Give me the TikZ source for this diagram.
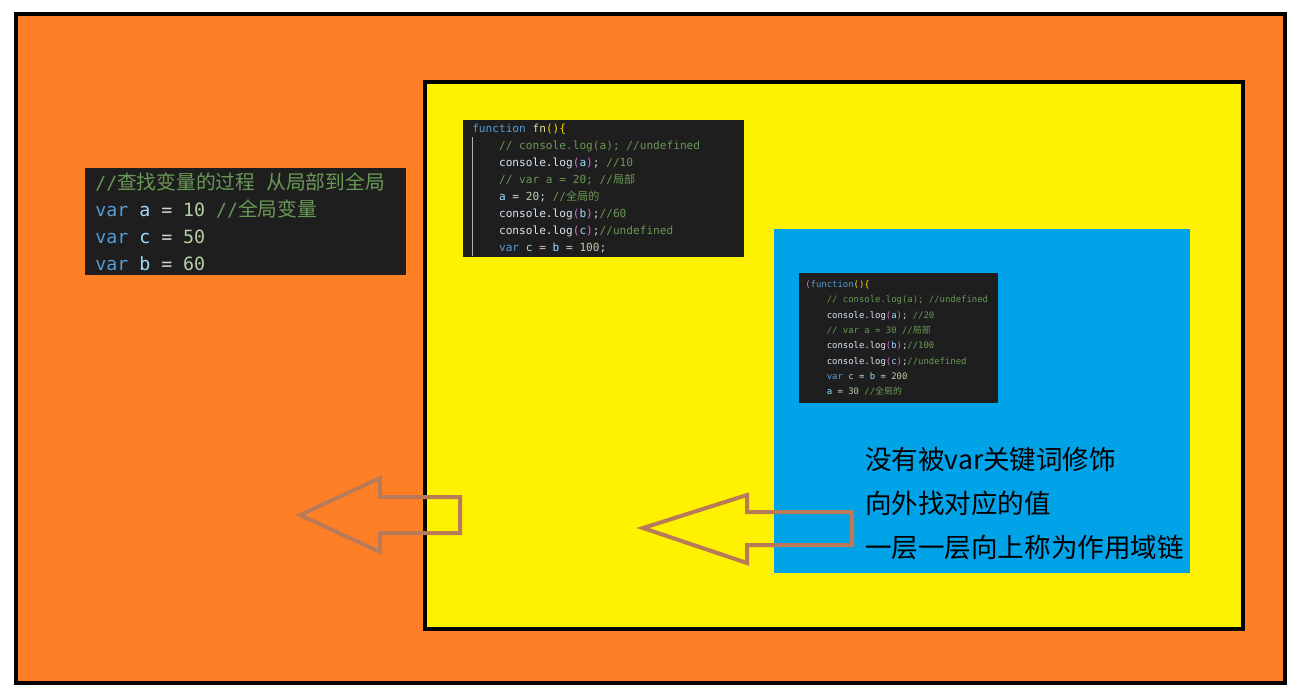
\documentclass[tikz,border=0pt]{standalone}
\usepackage{fontspec}
\setmonofont{DejaVu Sans Mono}
\newfontfamily\cjk{Noto Sans CJK SC}
\definecolor{bgorange}{HTML}{FF7F27}
\definecolor{bgyellow}{HTML}{FFF200}
\definecolor{bgblue}{HTML}{00A2E8}
\definecolor{arrowbrown}{HTML}{B97A57}
\definecolor{codebg}{HTML}{1E1E1E}
\definecolor{cmgreen}{HTML}{6A9955}
\definecolor{kwblue}{HTML}{569CD6}
\definecolor{varblue}{HTML}{9CDCFE}
\definecolor{numgreen}{HTML}{B5CEA8}
\definecolor{plain}{HTML}{D4D4D4}
\definecolor{fnyellow}{HTML}{DCDCAA}
\definecolor{gold}{HTML}{FFD700}
\definecolor{purple}{HTML}{DA70D6}
\definecolor{callwhite}{HTML}{D8E6F2}
\newcommand{\kw}[1]{\textcolor{kwblue}{#1}}
\newcommand{\vr}[1]{\textcolor{varblue}{#1}}
\newcommand{\nm}[1]{\textcolor{numgreen}{#1}}
\newcommand{\cm}[1]{\textcolor{cmgreen}{#1}}
\newcommand{\cjkcm}[1]{\textcolor{cmgreen}{{\cjk #1}}}
\newcommand{\cjkbig}[1]{\textcolor{cmgreen}{{\cjk\fontsize{14.8}{20.25}\selectfont #1}}}
\newcommand{\ind}{\phantom{xxxx}}
\newcommand{\call}[1]{\textcolor{callwhite}{console.log}\textcolor{purple}{(}\vr{#1}\textcolor{purple}{)}\textcolor{plain}{;}}

\begin{document}
\begin{tikzpicture}[x=0.75pt, y=-0.75pt,
    frame/.style = {draw=black, line width=3pt},
    codebox/.style = {fill=codebg, inner sep=0pt, anchor=north west},
    codetext/.style = {anchor=west, inner sep=0pt, align=left, text=plain},
    hollow/.style = {draw=arrowbrown, line width=3pt, line join=miter}]
  \useasboundingbox[fill=white] (0,0) rectangle (1310,697);

  \filldraw[frame, fill=bgorange] (16,14) rectangle (1285,683);
  \filldraw[frame, line width=2.6pt, fill=bgyellow] (425,82) rectangle (1243,629);
  \fill[bgblue] (774,229) rectangle (1190,573);

  \node[codebox, minimum width=240.75pt, minimum height=80.25pt] (code1) at (85,168) {};
  \node[codetext, font=\ttfamily\fontsize{13.7}{20.25}\selectfont] (text1) at ([xshift=7.5pt]code1.west)
    {\cm{//}\cjkbig{查找变量的过程}\ \cjkbig{从局部到全局}\\
     \kw{var} \vr{a} = \nm{10} \cm{//}\cjkbig{全局变量}\\
     \kw{var} \vr{c} = \nm{50}\\
     \kw{var} \vr{b} = \nm{60}};

  \node[codebox, minimum width=210.75pt, minimum height=102.75pt] (code2) at (463,120) {};
  \draw[gray!60, line width=0.6pt] (472,137) -- (472,256);
  \node[codetext, font=\ttfamily\fontsize{8.35}{12.75}\selectfont] (text2) at ([xshift=6.75pt]code2.west)
    {\kw{function} \textcolor{fnyellow}{fn}\textcolor{gold}{()\{}\\
     \ind\cm{// console.log(a); //undefined}\\
     \ind\call{a} \cm{//10}\\
     \ind\cm{// var a = 20; //}\cjkcm{局部}\\
     \ind\vr{a} = \nm{20}; \cm{//}\cjkcm{全局的}\\
     \ind\call{b}\cm{//60}\\
     \ind\call{c}\cm{//undefined}\\
     \ind\kw{var} \vr{c} = \vr{b} = \nm{100};};

  \node[codebox, minimum width=149.25pt, minimum height=97.5pt] (code3) at (799,273) {};
  \node[codetext, font=\ttfamily\fontsize{6.7}{11.5}\selectfont] (text3) at ([xshift=4.5pt]code3.west)
    {\textcolor{purple}{(}\kw{function}\textcolor{gold}{()\{}\\
     \ind\cm{// console.log(a); //undefined}\\
     \ind\call{a} \cm{//20}\\
     \ind\cm{// var a = 30 //}\cjkcm{局部}\\
     \ind\call{b}\cm{//100}\\
     \ind\call{c}\cm{//undefined}\\
     \ind\kw{var} \vr{c} = \vr{b} = \nm{200}\\
     \ind\vr{a} = \nm{30} \cm{//}\cjkcm{全局的}};

  \node[anchor=west, inner sep=0pt, align=left, font=\cjk\fontsize{19.9}{33}\selectfont] (note) at (865,503)
    {没有被var关键词修饰\\向外找对应的值\\一层一层向上称为作用域链};

  \draw[hollow] (300,515) -- (380,478) -- (380,497) -- (460,497) -- (460,533) -- (380,533) -- (380,552) -- cycle;
  \draw[hollow] (643,528) -- (747,495) -- (747,512) -- (852,512) -- (852,545) -- (747,545) -- (747,563) -- cycle;
\end{tikzpicture}
\end{document}
